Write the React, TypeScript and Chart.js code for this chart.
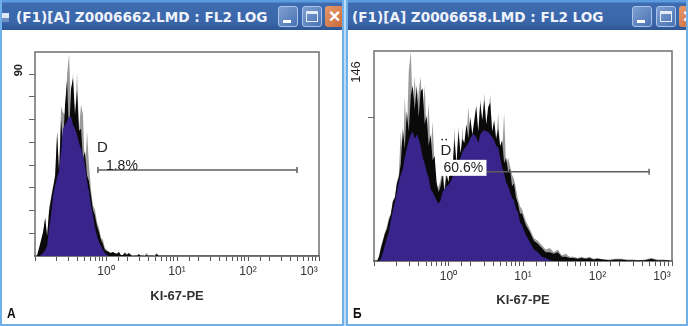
import React, { useEffect, useRef } from "react";
import { Chart, registerables } from "chart.js";

Chart.register(...registerables);

const titleA = "(F1)[A] Z0006662.LMD : FL2 LOG";
const titleB = "(F1)[A] Z0006658.LMD : FL2 LOG";
const axisTitle = "KI-67-PE";
const decadeLabels: [number, string][] = [
  [1, "10⁰"],
  [10, "10¹"],
  [100, "10²"],
  [1000, "10³      "],
];

const channelsA = [
  0.107, 0.114, 0.122, 0.13, 0.139, 0.148, 0.158, 0.168, 0.18, 0.192, 0.205, 0.218, 0.233, 0.248, 0.265, 0.283,
  0.302, 0.322, 0.343, 0.366, 0.391, 0.417, 0.445, 0.474, 0.506, 0.54, 0.576, 0.614, 0.655, 0.699, 0.746, 0.796,
  0.849, 0.906, 0.966, 1.03, 1.1, 1.17, 1.25, 1.33, 1.42, 1.52, 1.62, 1.73, 1.84, 1.97, 2.1, 2.24, 2.39, 2.55,
  2.72, 2.9, 3.09, 3.3, 3.52, 3.75, 4.0, 4.27, 4.55, 4.86, 5.18, 5.53, 5.9,
];
const peakA = [
  0, 3, 7, 10, 18, 8, 24, 29, 35, 30, 62, 38, 74, 71, 70, 90, 100, 72, 91, 65, 91, 62, 75, 70, 40, 62, 45, 33, 25,
  23, 17, 14, 9, 8, 4, 3, 2, 1.5, 2, 1, 1.5, 2, 0.5, 0.5, 2, 1, 1.5, 0.5, 0.5, 0, 0, 1, 0, 0, 0.5, 1.5, 0, 0, 0,
  0.5, 1.5, 0, 0,
];
const upperA = [
  0.5, 4, 8, 12, 19, 10, 22, 28, 34, 40, 61, 42, 68, 55, 75, 87, 60, 83, 88, 70, 82, 62, 63, 48, 52, 40, 37, 30, 23,
  20, 15, 12, 8, 6, 3, 2.5, 2, 1.5, 2, 1.5, 1, 2, 0.5, 0.5, 1.5, 0.5, 1.5, 0.5, 0, 0, 0, 1, 0, 0, 0, 0.5, 0, 0, 0,
  0, 1, 0, 0,
];
const coreA = [
  0, 0, 0.5, 1.5, 3, 5, 14, 20, 30, 35, 39, 42, 52, 63, 65, 67, 69, 69, 65, 63, 60, 56, 53, 50, 45, 37, 32, 25, 20,
  14, 10, 7, 5, 3, 1.5, 0.5, 0,
];

const channelsB = [
  0.11, 0.117, 0.124, 0.132, 0.14, 0.149, 0.158, 0.168, 0.179, 0.191, 0.203, 0.215, 0.229, 0.244, 0.259, 0.275,
  0.293, 0.312, 0.331, 0.352, 0.375, 0.398, 0.423, 0.45, 0.479, 0.509, 0.541, 0.575, 0.612, 0.651, 0.692, 0.736,
  0.782, 0.832, 0.884, 0.94, 1.0, 1.06, 1.13, 1.2, 1.28, 1.36, 1.45, 1.54, 1.63, 1.74, 1.85, 1.96, 2.09, 2.22,
  2.36, 2.51, 2.67, 2.84, 3.02, 3.21, 3.41, 3.63, 3.86, 4.1, 4.36, 4.64, 4.93, 5.25, 5.58, 5.93, 6.31, 6.7, 7.13,
  7.58, 8.06, 8.57, 9.12, 9.7, 10.9, 12.4, 14.0, 15.8, 17.9, 20.2, 22.9, 25.9, 29.3, 33.1, 37.4, 42.3, 47.9, 54.1,
  61.2, 69.2, 78.2, 88.4, 100, 120, 144, 173, 209, 251, 302, 363, 437, 525, 631, 759, 912,
];
const peakB = [
  0, 4, 10, 15, 20, 24, 30, 33, 42, 45, 55, 60, 90, 70, 114, 85, 132, 146, 105, 129, 100, 118, 128, 100, 122, 88,
  110, 75, 97, 65, 50, 52, 56, 70, 50, 66, 50, 72, 55, 93, 60, 94, 70, 93, 70, 85, 107, 88, 85, 90, 100, 85, 113,
  90, 117, 90, 100, 116, 85, 90, 80, 103, 75, 75, 103, 65, 72, 66, 60, 57, 50, 43, 38, 36, 28, 22, 16, 14, 11, 8, 9,
  6, 8, 4, 5, 3, 3, 2, 3, 2, 3, 1.5, 2, 1, 1, 1.5, 1.5, 1, 1, 0.5, 1, 2, 1, 1, 0.5,
];
const upperB = [
  0, 3, 9, 14, 19, 22, 28, 32, 41, 44, 54, 58, 68, 92, 78, 104, 90, 115, 122, 105, 122, 100, 118, 120, 95, 101, 80,
  88, 70, 73, 55, 48, 52, 60, 48, 60, 55, 68, 62, 85, 68, 90, 75, 85, 82, 95, 85, 100, 88, 98, 108, 90, 110, 98, 112,
  95, 107, 110, 90, 98, 85, 92, 80, 84, 68, 72, 62, 64, 52, 54, 44, 40, 33, 33, 25, 20, 14, 12, 9, 6, 6, 5, 6, 3, 3,
  2, 2, 1.5, 2, 1.5, 2, 1, 1.5, 1, 0.5, 1, 1, 0.5, 0.5, 0.5, 0.5, 1.5, 0.5, 0.5, 0.5,
];
const coreB = [
  0, 0, 1.5, 6, 11, 16, 20, 28, 35, 41, 48, 55, 60, 64, 72, 78, 84, 88, 90, 85, 88, 85, 80, 72, 68, 62, 58, 50, 48,
  45, 42, 40, 42, 48, 50, 52, 53, 55, 58, 62, 62, 68, 72, 76, 78, 80, 82, 85, 88, 88, 86, 82, 88, 90, 91, 90, 90,
  88, 86, 84, 80, 79, 72, 65, 61, 55, 52, 48, 44, 42, 36, 34, 27, 25, 18, 13, 8, 6, 3, 2, 0.5, 0,
];

const yTicksA = [11.25, 22.5, 33.75, 45, 56.25, 67.5, 78.75, 90];
const yTicksB = [100, 146];

const gateA = { from: 0.77, to: 490, level: 42.6, name: "D", pct: "1.8%" };
const gateB = { from: 0.83, to: 493, level: 62, name: "D", pct: "60.6%" };

const toPoints = (xs: number[], ys: number[]) => ys.map((y, i) => ({ x: xs[i], y }));

type PanelProps = {
  width: number;
  area: { left: number; right: number; top: number; bottom: number };
  channels: number[];
  peak: number[];
  upper: number[];
  core: number[];
  yMax: number;
  yTicks: number[];
  yLabel: string;
  yLabelValue: number;
  yLabelOffset: number;
  yLabelPadding: number;
  yFont: any;
  gate: typeof gateA;
  boxed: boolean;
  titleBottom: number;
};

function Histogram(p: PanelProps) {
  const ref = useRef<HTMLCanvasElement>(null);
  useEffect(() => {
    const gatePlugin = {
      id: "gate",
      beforeDatasetsDraw(chart: any) {
        const { ctx, chartArea: a } = chart;
        ctx.save();
        ctx.strokeStyle = "#6f6f6f";
        ctx.lineWidth = 1.5;
        ctx.strokeRect(a.left, a.top, a.right - a.left, a.bottom - a.top);
        ctx.restore();
      },
      afterDatasetsDraw(chart: any) {
        const { ctx, scales } = chart;
        const gx = scales.x.getPixelForValue(p.gate.from);
        const gy = scales.y.getPixelForValue(p.gate.level);
        ctx.save();
        ctx.fillStyle = "#222";
        ctx.textBaseline = "middle";
        ctx.textAlign = "left";
        ctx.font = "15px 'Liberation Sans'";
        if (p.boxed) {
          ctx.fillText(p.gate.name, gx - 2, gy - 21);
          ctx.fillRect(gx - 1, gy - 33, 1.5, 1.5);
          ctx.fillRect(gx + 3, gy - 33, 1.5, 1.5);
          ctx.fillStyle = "#fff";
          ctx.fillRect(gx - 3, gy - 12, 47, 16);
          ctx.fillStyle = "#222";
          ctx.font = "14px 'Liberation Sans'";
          ctx.fillText(p.gate.pct, gx + 1, gy - 4);
        } else {
          ctx.fillText(p.gate.name, gx - 1, gy - 22);
          ctx.font = "14px 'Liberation Sans'";
          ctx.fillText(p.gate.pct, gx + 8, gy - 4);
        }
        ctx.restore();
      },
    };
    const chart = new Chart(ref.current as HTMLCanvasElement, {
      type: "line",
      data: {
        datasets: [
          {
            label: "gate",
            data: [
              { x: p.gate.from, y: p.gate.level },
              { x: p.gate.to, y: p.gate.level },
            ],
            borderColor: "#5e5e5e",
            borderWidth: 1.5,
            fill: false,
            pointStyle: "line",
            pointRotation: 90,
            pointRadius: 3,
            pointBorderColor: "#5e5e5e",
            pointBorderWidth: 1.5,
            order: 0,
          },
          {
            label: "core",
            data: toPoints(p.channels, p.core),
            backgroundColor: "#38248a",
            borderColor: "#38248a",
            borderWidth: 0,
            pointRadius: 0,
            fill: "origin",
            order: 1,
          },
          {
            label: "upper",
            data: toPoints(p.channels, p.upper),
            backgroundColor: "#0a0a0a",
            borderColor: "#0a0a0a",
            borderWidth: 0,
            pointRadius: 0,
            fill: "origin",
            order: 2,
          },
          {
            label: "peak",
            data: toPoints(p.channels, p.peak),
            backgroundColor: "#9b9b9b",
            borderColor: "#9b9b9b",
            borderWidth: 0,
            pointRadius: 0,
            fill: "origin",
            order: 3,
          },
        ],
      },
      options: {
        animation: false,
        responsive: false,
        layout: {
          padding: { left: 0, top: p.area.top, right: p.width - p.area.right, bottom: 0 },
        },
        plugins: { legend: { display: false }, tooltip: { enabled: false } },
        scales: {
          x: {
            type: "logarithmic",
            min: 0.1,
            max: 1000,
            afterFit: (s: any) => {
              s.height = 326 - p.area.bottom;
              s.paddingRight = 0;
              s.paddingLeft = 0;
            },
            border: { color: "#444", width: 1.5 },
            grid: { drawOnChartArea: false, tickLength: 5, tickColor: "#555" },
            ticks: {
              autoSkip: false,
              maxRotation: 0,
              minRotation: 0,
              padding: 3,
              color: "#333",
              font: { family: "'Liberation Sans'", size: 12 },
              callback: (v: any) => {
                const hit = decadeLabels.find(([d]) => Math.abs(d - Number(v)) < d * 1e-6);
                return hit ? hit[1] : "";
              },
            },
            title: {
              display: true,
              text: axisTitle,
              color: "#333",
              font: { family: "'Liberation Sans'", size: 13, weight: "bold" },
              padding: { top: 0, bottom: p.titleBottom },
            },
          },
          y: {
            min: 0,
            max: p.yMax,
            afterFit: (s: any) => {
              s.width = p.area.left;
            },
            afterBuildTicks: (s: any) => {
              s.ticks = p.yTicks.map((value) => ({ value }));
            },
            afterCalculateLabelRotation: (s: any) => {
              s.labelRotation = 90;
            },
            border: { display: false },
            grid: {
              drawOnChartArea: false,
              tickLength: 6,
              tickColor: (c: any) => (c.tick && c.tick.value >= p.yMax ? "rgba(0,0,0,0)" : "#666"),
            },
            ticks: {
              autoSkip: false,
              crossAlign: "center",
              padding: p.yLabelPadding,
              labelOffset: p.yLabelOffset,
              color: "#222",
              font: p.yFont,
              callback: (v: any) => (Number(v) === p.yLabelValue ? p.yLabel : ""),
            },
          },
        },
      },
      plugins: [gatePlugin],
    } as any);
    return () => chart.destroy();
  }, []);
  return <canvas ref={ref} width={p.width} height={326} style={{ display: "block" }} />;
}

function WindowButtons({ left, closeWidth }: { left: number; closeWidth: number }) {
  const base: React.CSSProperties = {
    position: "absolute",
    top: 6,
    width: 20,
    height: 21,
    borderRadius: 3,
    boxSizing: "border-box",
    border: "1px solid #a9c4e8",
    background: "linear-gradient(135deg,#7f9fd0,#4a72b4)",
  };
  return (
    <>
      <div style={{ ...base, left }}>
        <div style={{ position: "absolute", left: 4, top: 13, width: 8, height: 3, background: "#fff" }} />
      </div>
      <div style={{ ...base, left: left + 24 }}>
        <div
          style={{
            position: "absolute",
            left: 3,
            top: 4,
            width: 12,
            height: 11,
            boxSizing: "border-box",
            border: "1px solid #e4ecf8",
            borderTop: "3px solid #e4ecf8",
          }}
        />
      </div>
      <div
        style={{
          position: "absolute",
          top: 6,
          left: left + 47,
          width: closeWidth,
          height: 21,
          borderRadius: 3,
          background: "linear-gradient(135deg,#e79a6a,#c9683a)",
          overflow: "hidden",
          color: "#fff",
          fontFamily: "'Liberation Sans'",
          fontWeight: 700,
          fontSize: 20,
          lineHeight: "21px",
          textAlign: "center",
        }}
      >
        <span style={{ display: "inline-block", width: 19 }}>×</span>
      </div>
    </>
  );
}

function Frame({ left, width, title, titleLeft, letter, letterLeft, btnLeft, closeWidth, icon, children }: any) {
  return (
    <div style={{ position: "absolute", left, top: 0, width, height: 326, background: "#fff", overflow: "hidden" }}>
      {children}
      <div
        style={{
          position: "absolute",
          left: 0,
          top: 0,
          width: "100%",
          height: 30,
          background: "linear-gradient(180deg,#5c9be0 0,#5c9be0 2px,#3f6cb0 3px,#3a66aa 22px,#2f5694 30px)",
        }}
      />
      {icon && (
        <div
          style={{
            position: "absolute",
            left: 1,
            top: 13,
            width: 8,
            height: 9,
            background: "linear-gradient(180deg,#dfe8f5 0,#dfe8f5 60%,#6d8fc4 60%,#6d8fc4 100%)",
          }}
        />
      )}
      <div
        style={{
          position: "absolute",
          left: titleLeft,
          top: 8,
          color: "#eef2fa",
          fontFamily: "'DejaVu Sans'",
          fontWeight: 700,
          fontSize: 13.6,
          lineHeight: "18px",
          whiteSpace: "nowrap",
        }}
      >
        {title}
      </div>
      <WindowButtons left={btnLeft} closeWidth={closeWidth} />
      <div
        style={{
          position: "absolute",
          left: letterLeft,
          top: 305,
          color: "#111",
          fontFamily: "'Liberation Sans'",
          fontWeight: 700,
          fontSize: 15,
          lineHeight: "16px",
          transform: "scaleX(0.8)",
          transformOrigin: "left center",
        }}
      >
        {letter}
      </div>
      <div style={{ position: "absolute", inset: 0, boxSizing: "border-box", border: "2px solid #6fb0ea", borderTop: "none", pointerEvents: "none" }} />
    </div>
  );
}

export default function App() {
  return (
    <div style={{ position: "fixed", left: 0, top: 0, width: 688, height: 326, overflow: "hidden", background: "#bcdcf6" }}>
      <Frame left={0} width={344} title={titleA} titleLeft={16} letter="А" letterLeft={7} btnLeft={278} closeWidth={19} icon={true}>
        <div style={{ position: "absolute", left: 0, top: 0 }}>
          <Histogram
            width={344}
            area={{ left: 35, right: 319, top: 52, bottom: 256 }}
            channels={channelsA}
            peak={peakA}
            upper={upperA}
            core={coreA}
            yMax={101}
            yTicks={yTicksA}
            yLabel="90"
            yLabelValue={90}
            yLabelOffset={-4}
            yLabelPadding={4}
            yFont={{ family: "'Liberation Sans'", size: 11, weight: "bold" }}
            gate={gateA}
            boxed={false}
            titleBottom={22}
          />
        </div>
      </Frame>
      <Frame left={346} width={342} title={titleB} titleLeft={6} letter="Б" letterLeft={7} btnLeft={286} closeWidth={19} icon={false}>
        <div style={{ position: "absolute", left: 0, top: 0 }}>
          <Histogram
            width={342}
            area={{ left: 28, right: 326, top: 51, bottom: 261 }}
            channels={channelsB}
            peak={peakB}
            upper={upperB}
            core={coreB}
            yMax={146}
            yTicks={yTicksB}
            yLabel="146"
            yLabelValue={146}
            yLabelOffset={21}
            yLabelPadding={1}
            yFont={{ family: "'Liberation Sans'", size: 13 }}
            gate={gateB}
            boxed={true}
            titleBottom={18}
          />
        </div>
      </Frame>
    </div>
  );
}
